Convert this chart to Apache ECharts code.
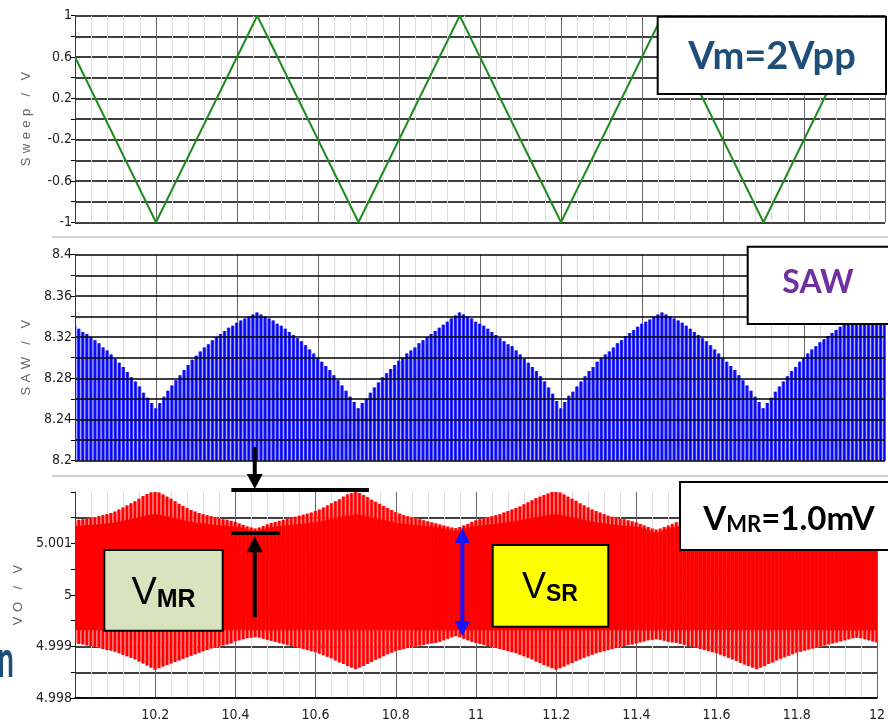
<!DOCTYPE html>
<html>
<head>
<meta charset="utf-8">
<script src="https://cdn.jsdelivr.net/npm/echarts@6/dist/echarts.min.js"></script>
<style>
  html, body { margin: 0; padding: 0; background: #ffffff; }
  #chart { width: 888px; height: 722px; }
</style>
</head>
<body>
<div id="chart"></div>
<script>
// ---- time axis (shared by the three panels) ----
const timeMin = 10.0;
const timeMax = 12.0;
const sampleStep = 0.01;          // envelope samples every 0.01 s, starting at timeMin
const xTickLabels = ['10.2', '10.4', '10.6', '10.8', '11', '11.2', '11.4', '11.6', '11.8', '12'];

// ---- Sweep (triangle modulation) vertices ----
const sweepX = [10.0, 10.2, 10.45, 10.7, 10.95, 11.2, 11.45, 11.7, 11.95, 12.0];
const sweepY = [0.6, -1, 1, -1, 1, -1, 1, -1, 1, 0.6];
const sweepTicks = ['1', '0.6', '0.2', '-0.2', '-0.6', '-1'];

// ---- SAW: top of the sawtooth carrier at each sample (V) ----
const sawTop = [
  8.331, 8.328, 8.325, 8.323, 8.320, 8.317, 8.314, 8.310, 8.307, 8.303, 8.299, 8.295, 8.291, 8.286, 8.281, 8.277, 8.272, 8.266, 8.261, 8.256, 8.251,
  8.256, 8.262, 8.268, 8.273, 8.278, 8.283, 8.288, 8.293, 8.298, 8.302, 8.306, 8.310, 8.313, 8.317, 8.320, 8.323, 8.326, 8.329, 8.331, 8.334, 8.336, 8.338, 8.340, 8.342, 8.344,
  8.342, 8.340, 8.338, 8.336, 8.333, 8.331, 8.328, 8.325, 8.322, 8.319, 8.316, 8.312, 8.308, 8.304, 8.300, 8.296, 8.292, 8.288, 8.283, 8.278, 8.273, 8.268, 8.262, 8.257, 8.251,
  8.256, 8.260, 8.266, 8.271, 8.276, 8.281, 8.285, 8.289, 8.293, 8.297, 8.300, 8.304, 8.307, 8.310, 8.314, 8.317, 8.320, 8.323, 8.326, 8.329, 8.332, 8.335, 8.338, 8.341, 8.344,
  8.342, 8.340, 8.338, 8.335, 8.333, 8.331, 8.328, 8.325, 8.322, 8.319, 8.316, 8.313, 8.311, 8.307, 8.303, 8.299, 8.295, 8.291, 8.287, 8.282, 8.277, 8.271, 8.265, 8.258, 8.251,
  8.257, 8.263, 8.267, 8.272, 8.277, 8.282, 8.287, 8.291, 8.296, 8.300, 8.303, 8.306, 8.310, 8.314, 8.317, 8.321, 8.324, 8.327, 8.330, 8.333, 8.335, 8.337, 8.340, 8.342, 8.344,
  8.342, 8.340, 8.338, 8.336, 8.334, 8.331, 8.328, 8.325, 8.322, 8.319, 8.316, 8.312, 8.308, 8.304, 8.300, 8.296, 8.292, 8.288, 8.283, 8.278, 8.273, 8.268, 8.262, 8.257, 8.251,
  8.256, 8.261, 8.267, 8.272, 8.277, 8.282, 8.287, 8.291, 8.296, 8.300, 8.304, 8.308, 8.311, 8.315, 8.318, 8.321, 8.324, 8.327, 8.330, 8.333, 8.335, 8.337, 8.340, 8.342, 8.344,
  8.342, 8.339, 8.337, 8.335, 8.332
];
const sawTicks = ['8.4', '8.36', '8.32', '8.28', '8.24', '8.2'];

// ---- VO: upper and lower ripple envelope at each sample (V) ----
const voUpper = [
  5.00145, 5.00146, 5.00147, 5.00148, 5.00150, 5.00151, 5.00153, 5.00155, 5.00157, 5.00159, 5.00162, 5.00166, 5.00170, 5.00174, 5.00178, 5.00182, 5.00187, 5.00192, 5.00196, 5.00199, 5.00203,
  5.00199, 5.00195, 5.00191, 5.00187, 5.00182, 5.00177, 5.00173, 5.00169, 5.00165, 5.00162, 5.00159, 5.00157, 5.00155, 5.00153, 5.00151, 5.00149, 5.00147, 5.00146, 5.00144, 5.00142, 5.00139, 5.00136, 5.00133, 5.00131, 5.00129,
  5.00131, 5.00134, 5.00137, 5.00140, 5.00142, 5.00144, 5.00146, 5.00148, 5.00150, 5.00152, 5.00154, 5.00156, 5.00158, 5.00160, 5.00163, 5.00166, 5.00170, 5.00174, 5.00178, 5.00182, 5.00186, 5.00191, 5.00195, 5.00198, 5.00202,
  5.00198, 5.00194, 5.00190, 5.00185, 5.00181, 5.00177, 5.00173, 5.00169, 5.00165, 5.00161, 5.00158, 5.00155, 5.00153, 5.00151, 5.00149, 5.00147, 5.00145, 5.00143, 5.00141, 5.00139, 5.00137, 5.00135, 5.00133, 5.00131, 5.00130,
  5.00132, 5.00135, 5.00138, 5.00142, 5.00145, 5.00147, 5.00149, 5.00151, 5.00153, 5.00155, 5.00157, 5.00160, 5.00163, 5.00166, 5.00169, 5.00172, 5.00176, 5.00180, 5.00184, 5.00188, 5.00191, 5.00194, 5.00197, 5.00200, 5.00202,
  5.00199, 5.00195, 5.00191, 5.00187, 5.00183, 5.00178, 5.00174, 5.00170, 5.00166, 5.00163, 5.00160, 5.00157, 5.00154, 5.00152, 5.00150, 5.00148, 5.00147, 5.00145, 5.00143, 5.00141, 5.00138, 5.00135, 5.00132, 5.00129, 5.00127,
  5.00129, 5.00132, 5.00135, 5.00138, 5.00141, 5.00143, 5.00145, 5.00147, 5.00149, 5.00151, 5.00153, 5.00155, 5.00157, 5.00160, 5.00163, 5.00166, 5.00170, 5.00174, 5.00178, 5.00182, 5.00186, 5.00190, 5.00194, 5.00198, 5.00201,
  5.00198, 5.00195, 5.00191, 5.00186, 5.00182, 5.00178, 5.00174, 5.00170, 5.00166, 5.00162, 5.00159, 5.00156, 5.00154, 5.00152, 5.00150, 5.00148, 5.00146, 5.00144, 5.00142, 5.00140, 5.00138, 5.00136, 5.00133, 5.00131, 5.00130,
  5.00131, 5.00133, 5.00136, 5.00139, 5.00142
];
const voLower = [
  4.99907, 4.99905, 4.99904, 4.99902, 4.99901, 4.99899, 4.99897, 4.99895, 4.99893, 4.99892, 4.99890, 4.99887, 4.99884, 4.99881, 4.99878, 4.99875, 4.99871, 4.99867, 4.99863, 4.99859, 4.99855,
  4.99858, 4.99861, 4.99864, 4.99867, 4.99870, 4.99873, 4.99876, 4.99879, 4.99882, 4.99885, 4.99888, 4.99891, 4.99893, 4.99896, 4.99898, 4.99900, 4.99902, 4.99904, 4.99906, 4.99910, 4.99912, 4.99914, 4.99916, 4.99917, 4.99918,
  4.99917, 4.99915, 4.99913, 4.99911, 4.99909, 4.99907, 4.99905, 4.99903, 4.99901, 4.99899, 4.99897, 4.99895, 4.99893, 4.99891, 4.99889, 4.99886, 4.99883, 4.99880, 4.99877, 4.99873, 4.99869, 4.99866, 4.99862, 4.99859, 4.99856,
  4.99859, 4.99862, 4.99866, 4.99870, 4.99874, 4.99877, 4.99881, 4.99885, 4.99888, 4.99891, 4.99893, 4.99895, 4.99897, 4.99899, 4.99900, 4.99902, 4.99903, 4.99905, 4.99906, 4.99907, 4.99909, 4.99912, 4.99915, 4.99918, 4.99920,
  4.99918, 4.99915, 4.99912, 4.99909, 4.99907, 4.99905, 4.99903, 4.99901, 4.99899, 4.99897, 4.99895, 4.99893, 4.99891, 4.99889, 4.99887, 4.99884, 4.99881, 4.99878, 4.99875, 4.99871, 4.99868, 4.99864, 4.99861, 4.99858, 4.99855,
  4.99858, 4.99861, 4.99865, 4.99868, 4.99872, 4.99875, 4.99878, 4.99881, 4.99884, 4.99887, 4.99889, 4.99891, 4.99893, 4.99895, 4.99897, 4.99899, 4.99901, 4.99903, 4.99904, 4.99906, 4.99908, 4.99910, 4.99912, 4.99913, 4.99914,
  4.99913, 4.99911, 4.99909, 4.99908, 4.99907, 4.99905, 4.99903, 4.99901, 4.99899, 4.99897, 4.99895, 4.99893, 4.99891, 4.99889, 4.99887, 4.99884, 4.99881, 4.99878, 4.99875, 4.99872, 4.99868, 4.99865, 4.99862, 4.99859, 4.99856,
  4.99859, 4.99862, 4.99866, 4.99869, 4.99873, 4.99876, 4.99879, 4.99882, 4.99885, 4.99888, 4.99890, 4.99892, 4.99894, 4.99896, 4.99898, 4.99900, 4.99902, 4.99904, 4.99906, 4.99908, 4.99910, 4.99912, 4.99914, 4.99916, 4.99917,
  4.99916, 4.99914, 4.99912, 4.99910, 4.99908
];
const voTicks = ['5.001', '5', '4.999', '4.998'];

// ---- annotation anchors (data space of the VO panel) ----
const vmrMarkX = 10.452;     // column of the V_MR arrows
const vmrBarLeft = 10.39;
const vmrBarRightHigh = 10.733;
const vmrBarRightLow = 10.51;
const vmrHigh = 5.00204;     // ripple peak level
const vmrLow = 5.00120;      // ripple dip level
const vsrMarkX = 10.966;     // column of the V_SR arrow
const vsrHigh = 5.00130;
const vsrLow = 4.99920;

// ---------------------------------------------------------------
const chart = echarts.init(document.getElementById('chart'), null, { renderer: 'canvas' });

const narrowFont = "'Liberation Sans Narrow', 'Arial Narrow', 'DejaVu Sans Condensed', 'Liberation Sans', sans-serif";
const calibriLike = "Lato, 'Open Sans', 'Liberation Sans', sans-serif";
const arialLike = "'Liberation Sans', Arial, sans-serif";

const grids = [
  { left: 75, right: 3, top: 15.7, height: 206.6 },
  { left: 75, right: 3, top: 254.7, height: 206 },
  { left: 75, right: 3, top: 492, height: 207 }
];

const tickText = v => String(+(+v).toFixed(4));
const pickLabel = list => v => { const s = tickText(v); return list.indexOf(s) >= 0 ? s : ''; };
const spaced = s => s.split('').map(c => '{c|' + c + '}').join('');

function xAxisFor(i) {
  return {
    type: 'value', gridIndex: i, min: timeMin, max: timeMax, interval: 0.2,
    axisLine: { show: i === 2, lineStyle: { color: '#000', width: 1.5 } },
    axisTick: { show: false },
    axisLabel: {
      show: i === 2, margin: 10, fontSize: 14, color: '#222', fontFamily: narrowFont,
      showMinLabel: false, showMaxLabel: true,
      formatter: pickLabel(xTickLabels)
    },
    splitLine: { show: true, lineStyle: { color: '#666', width: 1 } },
    minorTick: { show: false, splitNumber: 5 },
    minorSplitLine: { show: true, lineStyle: { color: '#dcdcdc', width: 1 } }
  };
}

function yAxisFor(i, min, max, interval, ticks, name, extra) {
  return Object.assign({
    type: 'value', gridIndex: i, min: min, max: max, interval: interval,
    axisLine: { show: true, lineStyle: { color: '#333', width: 1 } },
    axisTick: { show: true, length: 4, lineStyle: { color: '#000', width: 1 } },
    axisLabel: { margin: 3, fontSize: 14, color: '#222', fontFamily: narrowFont, formatter: pickLabel(ticks) },
    splitLine: { show: true, lineStyle: { color: '#000', width: 1.5 } },
    name: spaced(name), nameLocation: 'middle', nameGap: 42, nameRotate: 90,
    nameTextStyle: { rich: { c: { fontSize: 13, color: '#626262', fontFamily: arialLike, padding: [0, 2.2, 0, 2.2] } } }
  }, extra || {});
}

const sawData = sawTop.map((v, i) => [timeMin + i * sampleStep, v]);
const voData = voUpper.map((v, i) => [timeMin + i * sampleStep, voLower[i], v]);
const sawMin = 8.2;
// levels inside which the VO trace fills solidly (ripple always covers this band)
const voCoreHi = Math.min.apply(null, voUpper);
const voCoreLo = Math.max.apply(null, voLower);

function renderSaw(params, api) {
  const x = api.value(0), top = api.value(1);
  const pt = api.coord([x, top]);
  const pb = api.coord([x, sawMin]);
  const w = api.size([sampleStep, 0])[0];
  const h = pb[1] - pt[1];
  const x0 = pt[0] - w / 2;
  return {
    type: 'group',
    children: [
      { type: 'rect', shape: { x: x0, y: pt[1], width: w - 0.6, height: h }, style: { fill: '#3d3dff' } },
      { type: 'rect', shape: { x: x0 + 1, y: pt[1], width: 1.5, height: h }, style: { fill: '#0000ea' } }
    ]
  };
}

function renderVo(params, api) {
  const x = api.value(0), lo = api.value(1), hi = api.value(2);
  const pHi = api.coord([x, hi]);
  const pLo = api.coord([x, lo]);
  const w = api.size([sampleStep, 0])[0];
  const h = pLo[1] - pHi[1];
  const x0 = pHi[0] - w / 2;
  const hiCoreY = api.coord([x, voCoreHi])[1];
  const loCoreY = api.coord([x, voCoreLo])[1];
  const coreTop = Math.max(pHi[1] + 3, pHi[1] + 0.6 * (hiCoreY - pHi[1]));
  const coreBot = Math.min(pLo[1] - 3, loCoreY - 6);
  return {
    type: 'group',
    children: [
      { type: 'rect', shape: { x: x0, y: pHi[1], width: w, height: h }, style: { fill: '#ff7b7b' } },
      { type: 'rect', shape: { x: x0 + 0.5, y: pHi[1], width: w * 0.62, height: h }, style: { fill: '#ff0000' } },
      { type: 'rect', shape: { x: x0 - 0.3, y: coreTop, width: w + 0.6, height: coreBot - coreTop }, style: { fill: '#ff0000' } }
    ]
  };
}

const option = {
  animation: false,
  backgroundColor: '#ffffff',
  grid: grids,
  xAxis: [xAxisFor(0), xAxisFor(1), xAxisFor(2)],
  yAxis: [
    yAxisFor(0, -1, 1, 0.2, sweepTicks, 'Sweep / V'),
    yAxisFor(1, 8.2, 8.4, 0.02, sawTicks, 'SAW / V', { z: 5 }),
    yAxisFor(2, 4.998, 5.002, 0.0005, voTicks, 'VO / V', {
      splitLine: { show: true, showMaxLine: false, lineStyle: { color: '#000', width: 1.5 } }
    })
  ],
  series: [
    {
      name: 'Sweep', type: 'line', xAxisIndex: 0, yAxisIndex: 0,
      data: sweepX.map((x, i) => [x, sweepY[i]]),
      symbol: 'none', clip: false,
      lineStyle: { color: '#1f8c1f', width: 2 }
    },
    {
      name: 'SAW', type: 'custom', xAxisIndex: 1, yAxisIndex: 1,
      data: sawData, renderItem: renderSaw, clip: true
    },
    {
      name: 'VO', type: 'custom', xAxisIndex: 2, yAxisIndex: 2,
      data: voData, renderItem: renderVo, clip: true
    }
  ]
};

chart.setOption(option);

// ---- annotations: panel separators, callout boxes and arrows ----
function buildAnnotations() {
  const p = (x, y) => chart.convertToPixel({ gridIndex: 2 }, [x, y]);
  const els = [];

  // light separators between the panels
  [237, 476].forEach(y => els.push({
    type: 'line', shape: { x1: 52, y1: y, x2: 888, y2: y },
    style: { stroke: '#cfcfcf', lineWidth: 2 }, z: 50
  }));

  // V_MR markers: level bars and arrows
  const hiL = p(vmrBarLeft, vmrHigh), hiR = p(vmrBarRightHigh, vmrHigh);
  const loL = p(vmrBarLeft, vmrLow), loR = p(vmrBarRightLow, vmrLow);
  const mHi = p(vmrMarkX, vmrHigh), mLo = p(vmrMarkX, vmrLow);
  const ax = mHi[0] - 1.5;
  els.push(
    { type: 'line', shape: { x1: hiL[0], y1: hiL[1], x2: hiR[0], y2: hiR[1] }, style: { stroke: '#000', lineWidth: 4 }, z: 60 },
    { type: 'line', shape: { x1: loL[0], y1: loL[1], x2: loR[0], y2: loR[1] }, style: { stroke: '#000', lineWidth: 3.5 }, z: 60 },
    { type: 'line', shape: { x1: ax, y1: mHi[1] - 43, x2: ax, y2: mHi[1] - 14 }, style: { stroke: '#000', lineWidth: 4 }, z: 60 },
    { type: 'polygon', shape: { points: [[ax - 8, mHi[1] - 16], [ax + 8, mHi[1] - 16], [ax, mHi[1] - 1]] }, style: { fill: '#000' }, z: 60 },
    { type: 'polygon', shape: { points: [[ax - 8, mLo[1] + 19], [ax + 8, mLo[1] + 19], [ax, mLo[1] + 3]] }, style: { fill: '#000' }, z: 60 },
    { type: 'line', shape: { x1: ax, y1: mLo[1] + 17, x2: ax, y2: mLo[1] + 84 }, style: { stroke: '#000', lineWidth: 4 }, z: 60 }
  );

  // V_SR double arrow
  const sHi = p(vsrMarkX, vsrHigh), sLo = p(vsrMarkX, vsrLow);
  const bx = sHi[0];
  els.push(
    { type: 'line', shape: { x1: bx, y1: sHi[1] + 12, x2: bx, y2: sLo[1] - 12 }, style: { stroke: '#1414ff', lineWidth: 4 }, z: 60 },
    { type: 'polygon', shape: { points: [[bx - 7.5, sHi[1] + 15], [bx + 7.5, sHi[1] + 15], [bx, sHi[1]]] }, style: { fill: '#1414ff' }, z: 60 },
    { type: 'polygon', shape: { points: [[bx - 7.5, sLo[1] - 15], [bx + 7.5, sLo[1] - 15], [bx, sLo[1]]] }, style: { fill: '#1414ff' }, z: 60 }
  );

  // callout boxes
  const box = (x, y, w, h, fill) => ({
    type: 'rect', shape: { x: x, y: y, width: w, height: h },
    style: { fill: fill, stroke: '#000', lineWidth: 2 }, z: 70
  });
  els.push(
    box(657.7, 16.7, 228.3, 77.3, '#ffffff'),
    box(747.7, 246.7, 145, 77.3, '#ffffff'),
    box(680, 482, 212, 68, '#ffffff'),
    box(104.3, 550, 118.4, 80.7, '#d7e4bd'),
    box(492.7, 545, 115.6, 81.7, '#ffff00')
  );

  els.push(
    { type: 'text', z: 80, style: { x: 772, y: 57, text: 'Vm=2Vpp', align: 'center', verticalAlign: 'middle',
      fill: '#1f4e79', font: "bold 38px " + calibriLike } },
    { type: 'text', z: 80, style: { x: 818, y: 283, text: 'SAW', align: 'center', verticalAlign: 'middle',
      fill: '#7030a0', font: "bold 32px " + calibriLike } },
    { type: 'text', z: 80, style: { x: 789, y: 516, text: '{v|V}{s|MR}{v|=1.0mV}', align: 'center', verticalAlign: 'middle',
      rich: {
        v: { fontSize: 33, fontWeight: 'bold', fontFamily: calibriLike, fill: '#000', lineHeight: 40, verticalAlign: 'bottom' },
        s: { fontSize: 22, fontWeight: 'bold', fontFamily: calibriLike, fill: '#000', lineHeight: 22, verticalAlign: 'bottom' }
      } } },
    { type: 'text', z: 80, style: { x: 163.5, y: 590, text: '{v|V}{s|MR}', align: 'center', verticalAlign: 'middle',
      rich: {
        v: { fontSize: 38, fontFamily: arialLike, fill: '#000', lineHeight: 46, verticalAlign: 'bottom' },
        s: { fontSize: 25, fontWeight: 'bold', fontFamily: arialLike, fill: '#000', lineHeight: 30, verticalAlign: 'bottom' }
      } } },
    { type: 'text', z: 80, style: { x: 550, y: 586, text: '{v|V}{s|SR}', align: 'center', verticalAlign: 'middle',
      rich: {
        v: { fontSize: 36, fontFamily: arialLike, fill: '#000', lineHeight: 40, verticalAlign: 'bottom' },
        s: { fontSize: 23, fontWeight: 'bold', fontFamily: arialLike, fill: '#000', lineHeight: 20, verticalAlign: 'bottom' }
      } } },
    { type: 'text', z: 80, x: 14, y: 660, scaleX: 0.55, style: { x: 0, y: 0, text: 'n', align: 'right', verticalAlign: 'middle',
      fill: '#1f4e79', font: "bold 52px " + calibriLike } }
  );

  chart.setOption({ graphic: { elements: els } });
}

buildAnnotations();
</script>
</body>
</html>
